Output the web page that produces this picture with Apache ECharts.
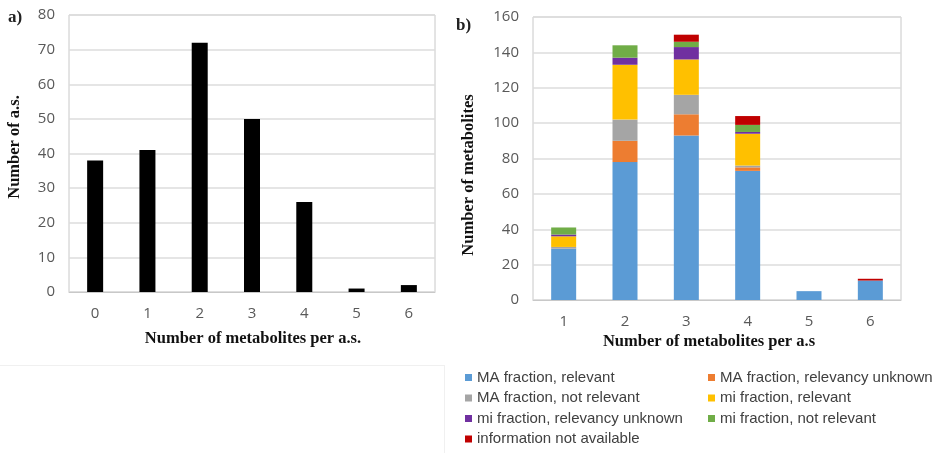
<!DOCTYPE html>
<html>
<head>
<meta charset="utf-8">
<script src="https://cdn.jsdelivr.net/npm/echarts@6/dist/echarts.min.js"></script>
<style>
  html, body { margin: 0; padding: 0; background: #fff; }
  #chart { width: 937px; height: 453px; }
</style>
</head>
<body>
<div id="chart"></div>
<script>
// Panel a: number of active substances by metabolite count
const countCategories = ['0', '1', '2', '3', '4', '5', '6'];
const asCounts = [38, 41, 72, 50, 26, 1, 2];

// Panel b: metabolites split by fraction and relevance
const metaboliteCategories = ['1', '2', '3', '4', '5', '6'];
const maRelevant        = [29, 78, 93, 73, 5, 11];
const maUnknown         = [0, 12, 12, 2, 0, 0];
const maNotRelevant     = [1, 12, 11, 1, 0, 0];
const miRelevant        = [6, 31, 20, 18, 0, 0];
const miUnknown         = [1, 4, 7, 1, 0, 0];
const miNotRelevant     = [4, 7, 3, 4, 0, 0];
const infoNotAvailable  = [0, 0, 4, 5, 0, 1];

const stackSeries = [
  ['MA fraction, relevant', maRelevant, '#5B9BD5'],
  ['MA fraction, relevancy unknown', maUnknown, '#ED7D31'],
  ['MA fraction, not relevant', maNotRelevant, '#A5A5A5'],
  ['mi fraction, relevant', miRelevant, '#FFC000'],
  ['mi fraction, relevancy unknown', miUnknown, '#7030A0'],
  ['mi fraction, not relevant', miNotRelevant, '#70AD47'],
  ['information not available', infoNotAvailable, '#C00000']
];

const tickFont = { color: '#595959', fontSize: 15, fontFamily: 'Open Sans, Liberation Sans, sans-serif' };
const titleFontCss = 'bold 16.5px Liberation Serif, serif';
const legendText = { color: '#404040', fontSize: 15, fontFamily: 'Liberation Sans, Arial, sans-serif' };

const chart = echarts.init(document.getElementById('chart'), null, { renderer: 'canvas' });

const option = {
  animation: false,
  backgroundColor: '#fff',
  grid: [
    { left: 69, right: 502, top: 15, bottom: 161, show: true, borderColor: '#c8c8c8', borderWidth: 1 },
    { left: 533, right: 36, top: 17, bottom: 153, show: true, borderColor: '#c8c8c8', borderWidth: 1 }
  ],
  xAxis: [
    {
      gridIndex: 0, type: 'category', data: countCategories,
      axisLine: { lineStyle: { color: '#c8c8c8' } }, axisTick: { show: false },
      axisLabel: Object.assign({ margin: 14 }, tickFont)
    },
    {
      gridIndex: 1, type: 'category', data: metaboliteCategories,
      axisLine: { lineStyle: { color: '#c8c8c8' } }, axisTick: { show: false },
      axisLabel: Object.assign({ margin: 14 }, tickFont)
    }
  ],
  yAxis: [
    {
      gridIndex: 0, type: 'value', min: 0, max: 80, interval: 10,
      axisLine: { show: false }, axisTick: { show: false },
      axisLabel: Object.assign({ margin: 14 }, tickFont),
      splitLine: { lineStyle: { color: '#dcdcdc', width: 1.5 } }
    },
    {
      gridIndex: 1, type: 'value', min: 0, max: 160, interval: 20,
      axisLine: { show: false }, axisTick: { show: false },
      axisLabel: Object.assign({ margin: 14 }, tickFont),
      splitLine: { lineStyle: { color: '#dcdcdc', width: 1.5 } }
    }
  ],
  legend: [
    {
      orient: 'vertical', left: 465, top: 370, height: 90, padding: 0,
      itemWidth: 7, itemHeight: 7, itemGap: 5.5, icon: 'rect',
      textStyle: legendText,
      data: ['MA fraction, relevant', 'MA fraction, not relevant', 'mi fraction, relevancy unknown', 'information not available']
    },
    {
      orient: 'vertical', left: 708, top: 370, height: 90, padding: 0,
      itemWidth: 7, itemHeight: 7, itemGap: 5.5, icon: 'rect',
      textStyle: legendText,
      data: ['MA fraction, relevancy unknown', 'mi fraction, relevant', 'mi fraction, not relevant']
    }
  ],
  series: [
    {
      type: 'bar', xAxisIndex: 0, yAxisIndex: 0, data: asCounts,
      barWidth: 16, itemStyle: { color: '#000' }
    }
  ].concat(stackSeries.map(([name, values, color]) => ({
    type: 'bar', name: name, xAxisIndex: 1, yAxisIndex: 1, stack: 'metabolites',
    data: values, barWidth: 25,
    itemStyle: { color: color }
  }))),
  graphic: [
    // panel letters
    { type: 'text', left: 8, top: 9, style: { text: 'a)', font: 'bold 17px Liberation Serif, serif', fill: '#222' } },
    { type: 'text', left: 456, top: 17, style: { text: 'b)', font: 'bold 17px Liberation Serif, serif', fill: '#222' } },
    // axis titles
    { type: 'text', x: 253, y: 339, style: { text: 'Number of metabolites per a.s.', font: titleFontCss, fill: '#111', align: 'center', verticalAlign: 'middle' } },
    { type: 'text', x: 15, y: 147, rotation: Math.PI / 2, style: { text: 'Number of a.s.', font: titleFontCss, fill: '#111', align: 'center', verticalAlign: 'middle' } },
    { type: 'text', x: 709, y: 342, style: { text: 'Number of metabolites per a.s', font: titleFontCss, fill: '#111', align: 'center', verticalAlign: 'middle' } },
    { type: 'text', x: 469, y: 175, rotation: Math.PI / 2, style: { text: 'Number of metabolites', font: titleFontCss, fill: '#111', align: 'center', verticalAlign: 'middle' } },
    // faint frame around the lower-left blank area
    { type: 'line', shape: { x1: 0, y1: 365.5, x2: 444, y2: 365.5 }, style: { stroke: '#f0f0f0', lineWidth: 1 } },
    { type: 'line', shape: { x1: 444.5, y1: 365, x2: 444.5, y2: 453 }, style: { stroke: '#f0f0f0', lineWidth: 1 } }
  ]
};

chart.setOption(option);
</script>
</body>
</html>
